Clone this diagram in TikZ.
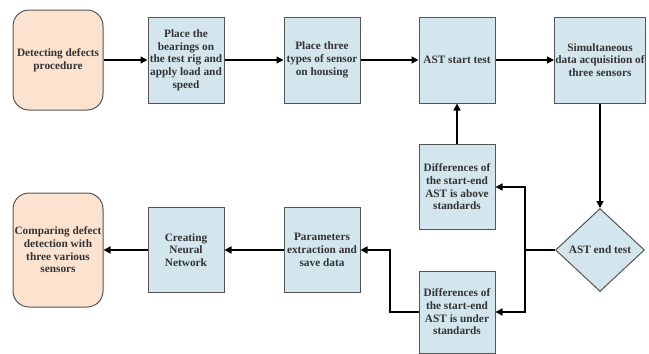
\documentclass[tikz,border=0pt]{standalone}
\usepackage{fontspec}
\setmainfont{Liberation Serif}
\usetikzlibrary{shapes.geometric,arrows.meta}
\definecolor{boxblue}{HTML}{D3E6EE}
\definecolor{peach}{HTML}{FBE3CF}
\definecolor{edgegray}{HTML}{555555}
\definecolor{txt}{HTML}{333333}
\begin{document}
\begin{tikzpicture}[x=1pt,y=-1pt,
  base/.style={draw=edgegray,line width=1pt,text=txt,align=center,inner sep=0pt,
    font=\fontsize{11.3}{12.7}\selectfont\bfseries},
  stepbox/.style={base,fill=boxblue,minimum width=76pt,minimum height=86pt},
  widebox/.style={base,fill=boxblue,minimum width=91pt,minimum height=86pt},
  termbox/.style={base,fill=peach,rounded corners=16pt,minimum width=90pt},
  decide/.style={base,fill=boxblue,diamond,minimum width=89pt,minimum height=83pt,aspect=1.07},
  arr/.style={line width=1.5pt,-{Triangle[length=7pt,width=7pt]}},
  ln/.style={line width=1.5pt}]
\useasboundingbox (0,0) rectangle (649,354);
\node[termbox,minimum height=100pt] (start) at (58,60) {Detecting defects\\procedure};
\node[stepbox] (b1) at (186,60) {Place the\\bearings on\\the test rig and\\apply load and\\speed};
\node[stepbox] (b2) at (322,60) {Place three\\types of sensor\\on housing};
\node[stepbox] (b3) at (457,60) {AST start test};
\node[widebox] (b4) at (600,60) {Simultaneous\\data acquisition of\\three sensors};
\node[decide] (d) at (600,250) {AST end test};
\node[stepbox,minimum height=85pt] (above) at (457,187) {Differences of\\the start-end\\AST is above\\standards};
\node[stepbox,minimum height=82pt] (under) at (457,312) {Differences of\\the start-end\\AST is under\\standards};
\node[stepbox,minimum height=85pt] (par) at (322,250) {Parameters\\extraction and\\save data};
\node[stepbox,minimum height=85pt] (nn) at (186,250) {Creating\\Neural\\Network};
\node[termbox,minimum height=114pt] (fin) at (58,250) {Comparing defect\\detection with\\three various\\sensors};
\coordinate (j) at (525,250);
\coordinate (k) at (390,250);
\draw[arr] (start) -- (b1);
\draw[arr] (b1) -- (b2);
\draw[arr] (b2) -- (b3);
\draw[arr] (b3) -- (b4);
\draw[arr] (b4) -- (d);
\draw[ln] (d.west) -- (j);
\draw[arr] (j) |- (above.east);
\draw[arr] (j) |- (under.east);
\draw[arr] (above) -- (b3);
\draw[arr] (under.west) -| (k) -- (par.east);
\draw[arr] (par) -- (nn);
\draw[arr] (nn) -- (fin);
\end{tikzpicture}
\end{document}
